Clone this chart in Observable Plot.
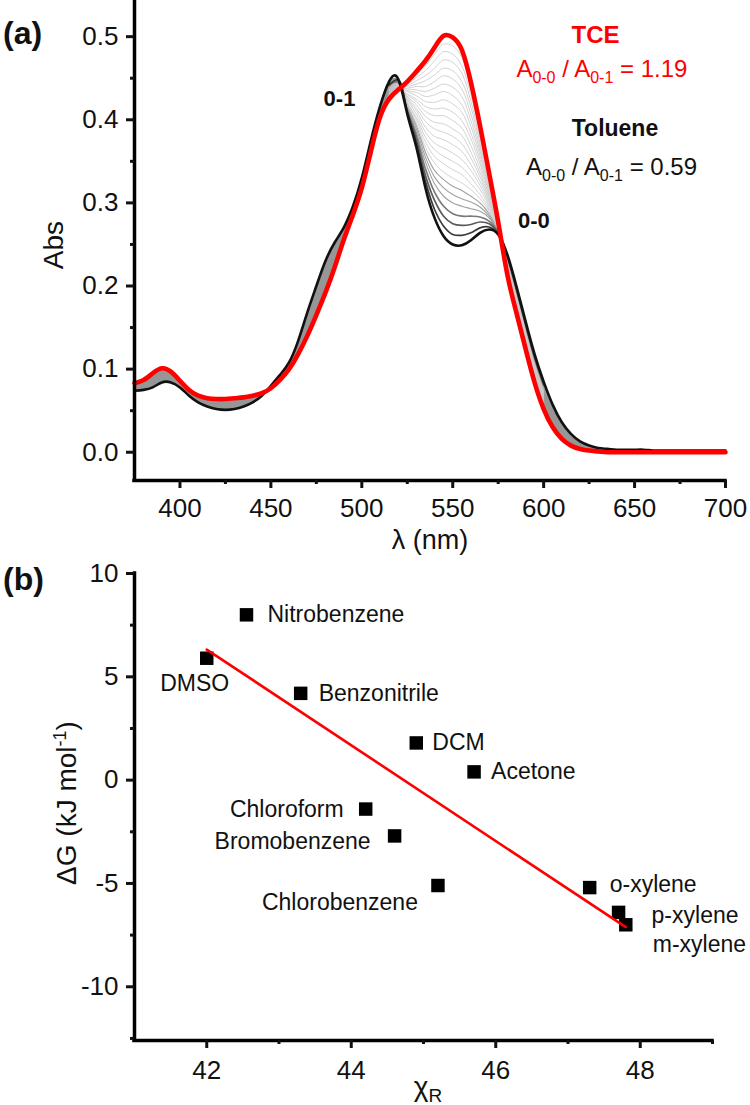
<!DOCTYPE html>
<html>
<head>
<meta charset="utf-8">
<script src="https://cdn.jsdelivr.net/npm/d3@7"></script>
<script src="https://cdn.jsdelivr.net/npm/@observablehq/plot@0.6"></script>
<style>
  body { margin: 0; background: #fff; width: 750px; height: 1105px; overflow: hidden; }
  svg { display: block; }
  text { white-space: pre; }
</style>
</head>
<body>
<div id="chart"></div>
<script>
// ================= Panel (a): UV-vis spectra =================
const wavelength = [375,380,385,390,395,400,405,410,415,420,425,430,435,440,445,450,455,460,465,470,475,480,485,490,495,500,505,510,515,520,525,530,535,540,545,550,555,560,565,570,575,580,585,590,595,600,605,610,615,620,625,630,635,640,645,650,655,660,665,670,675,680,685,690,695,700];
const absToluene = [0.074,0.075,0.078,0.084,0.084,0.078,0.068,0.060,0.055,0.052,
  0.051,0.052,0.055,0.060,0.068,0.080,0.093,0.108,0.134,0.168,
  0.200,0.230,0.252,0.270,0.295,0.330,0.375,0.416,0.446,0.449,
  0.407,0.367,0.318,0.282,0.260,0.250,0.249,0.255,0.264,0.268,
  0.262,0.238,0.200,0.158,0.118,0.085,0.057,0.036,0.022,0.013,
  0.008,0.005,0.004,0.003,0.003,0.003,0.003,0.002,0.002,0.002,
  0.002,0.002,0.002,0.002,0.002,0.002];
const absTCE = [0.083,0.087,0.095,0.101,0.097,0.086,0.075,0.068,0.065,0.064,
  0.064,0.065,0.066,0.068,0.071,0.077,0.087,0.100,0.118,0.140,
  0.165,0.192,0.222,0.255,0.285,0.318,0.362,0.403,0.425,0.436,
  0.446,0.458,0.471,0.487,0.501,0.499,0.484,0.445,0.393,0.336,
  0.277,0.214,0.168,0.125,0.084,0.052,0.030,0.016,0.008,0.004,
  0.002,0.001,0.000,0.000,0.000,0.000,0.000,0.000,0.000,0.000,
  0.000,0.000,0.000,0.000,0.000,0.000];

// intermediate spectra of the titration (read in the 515-600 nm window), from toluene side to TCE side
const wavelengthMid = [515,520,525,530,535,540,545,550,555,560,565,570,575,580,585,590,595,600];
const absMid01 = [0.442,0.448,0.409,0.372,0.326,0.292,0.272,0.262,0.261,0.264,0.270,0.271,0.263,0.237,0.198,0.156,0.116,0.083];
const absMid02 = [0.441,0.448,0.411,0.376,0.333,0.303,0.284,0.275,0.273,0.274,0.277,0.275,0.264,0.236,0.197,0.155,0.115,0.082];
const absMid03 = [0.444,0.445,0.411,0.381,0.341,0.313,0.296,0.287,0.284,0.284,0.283,0.278,0.264,0.234,0.195,0.153,0.113,0.080];
const absMid04 = [0.439,0.446,0.415,0.385,0.349,0.323,0.308,0.300,0.296,0.293,0.290,0.282,0.265,0.233,0.194,0.151,0.111,0.078];
const absMid05 = [0.442,0.444,0.415,0.389,0.355,0.331,0.318,0.310,0.305,0.301,0.295,0.284,0.266,0.232,0.192,0.150,0.110,0.077];
const absMid06 = [0.438,0.445,0.418,0.393,0.361,0.339,0.328,0.320,0.315,0.308,0.300,0.287,0.266,0.231,0.191,0.149,0.109,0.076];
const absMid07 = [0.440,0.443,0.418,0.396,0.367,0.348,0.337,0.330,0.324,0.316,0.305,0.290,0.267,0.230,0.190,0.147,0.107,0.074];
const absMid08 = [0.437,0.444,0.421,0.400,0.373,0.356,0.347,0.340,0.334,0.323,0.310,0.292,0.267,0.229,0.189,0.146,0.106,0.073];
const absMid09 = [0.438,0.442,0.421,0.403,0.379,0.364,0.356,0.350,0.343,0.331,0.316,0.295,0.268,0.228,0.187,0.145,0.104,0.072];
const absMid10 = [0.435,0.443,0.424,0.407,0.385,0.372,0.366,0.360,0.352,0.339,0.321,0.298,0.269,0.227,0.186,0.144,0.103,0.071];
const absMid11 = [0.436,0.441,0.425,0.411,0.391,0.380,0.376,0.370,0.362,0.346,0.326,0.301,0.269,0.227,0.185,0.142,0.102,0.069];
const absMid12 = [0.434,0.442,0.427,0.414,0.398,0.389,0.385,0.380,0.371,0.354,0.331,0.303,0.270,0.226,0.183,0.141,0.100,0.068];
const absMid13 = [0.435,0.440,0.428,0.418,0.404,0.397,0.395,0.389,0.381,0.361,0.336,0.306,0.270,0.225,0.182,0.140,0.099,0.067];
const absMid14 = [0.432,0.441,0.430,0.422,0.410,0.405,0.405,0.399,0.390,0.369,0.341,0.309,0.271,0.224,0.181,0.138,0.098,0.065];
const absMid15 = [0.433,0.440,0.431,0.425,0.416,0.413,0.414,0.409,0.399,0.377,0.347,0.312,0.272,0.223,0.180,0.137,0.096,0.064];
const absMid16 = [0.431,0.440,0.434,0.429,0.422,0.421,0.424,0.419,0.409,0.384,0.352,0.314,0.272,0.222,0.178,0.136,0.095,0.063];
const absMid17 = [0.431,0.439,0.435,0.433,0.428,0.430,0.434,0.429,0.418,0.392,0.357,0.317,0.273,0.221,0.177,0.134,0.094,0.061];
const absMid18 = [0.429,0.439,0.437,0.436,0.434,0.438,0.443,0.439,0.428,0.399,0.362,0.320,0.273,0.220,0.176,0.133,0.092,0.060];
const absMid19 = [0.429,0.438,0.438,0.440,0.440,0.446,0.453,0.449,0.437,0.407,0.367,0.322,0.274,0.219,0.174,0.132,0.091,0.059];
const absMid20 = [0.428,0.438,0.440,0.443,0.447,0.454,0.462,0.459,0.446,0.415,0.372,0.325,0.275,0.218,0.173,0.130,0.089,0.057];
const absMid21 = [0.428,0.437,0.441,0.447,0.453,0.462,0.472,0.469,0.456,0.422,0.378,0.328,0.275,0.217,0.172,0.129,0.088,0.056];
const absMid22 = [0.426,0.437,0.443,0.451,0.459,0.471,0.482,0.479,0.465,0.430,0.383,0.331,0.276,0.216,0.171,0.128,0.087,0.055];
const absMid23 = [0.426,0.436,0.444,0.454,0.465,0.479,0.491,0.489,0.475,0.437,0.388,0.333,0.276,0.215,0.169,0.126,0.085,0.053];

const xTicksA = [400,450,500,550,600,650,700];
const xMinorA = [425,475,525,575,625,675];
const yTicksA = [0.0,0.1,0.2,0.3,0.4,0.5];
const yMinorA = [0.05,0.15,0.25,0.35,0.45];

// ================= Panel (b): ΔG vs χR =================
const solvents = ["Nitrobenzene","DMSO","Benzonitrile","DCM","Acetone","Chloroform","Bromobenzene","Chlorobenzene","o-xylene","p-xylene","m-xylene"];
const chiR   = [42.55, 42.0, 43.3, 44.9, 45.7, 44.2, 44.6, 45.2, 47.3, 47.7, 47.8];
const deltaG = [8.0, 5.9, 4.2, 1.8, 0.4, -1.4, -2.7, -5.1, -5.2, -6.4, -7.0];

const xTicksB = [42,44,46,48];
const xMinorB = [43,45,47,49];
const yTicksB = [-10,-5,0,5,10];
const yMinorB = [-12.5,-7.5,-2.5,2.5,7.5];

// ================= styling / layout options =================
const fontFam = "'Liberation Sans', Arial, Helvetica, sans-serif";
const ink = "#111";
const labelPlacement = {
  "Nitrobenzene":  {dx: 21,  dy: 0,    anchor: "start"},
  "DMSO":          {dx: -12, dy: 25,   anchor: "middle"},
  "Benzonitrile":  {dx: 18,  dy: 0,    anchor: "start"},
  "DCM":           {dx: 16,  dy: 0,    anchor: "start"},
  "Acetone":       {dx: 17,  dy: 0,    anchor: "start"},
  "Chloroform":    {dx: -22, dy: 1,    anchor: "end"},
  "Bromobenzene":  {dx: -24, dy: 6,    anchor: "end"},
  "Chlorobenzene": {dx: -20, dy: 17,   anchor: "end"},
  "o-xylene":      {dx: 20,  dy: -3,   anchor: "start"},
  "p-xylene":      {dx: 33,  dy: 3,    anchor: "start"},
  "m-xylene":      {dx: 27,  dy: 20,   anchor: "start"}
};

// ---- tables built from the arrays ----
const specTol = wavelength.map((w, i) => ({wl: w, a: absToluene[i]}));
const specTCE = wavelength.map((w, i) => ({wl: w, a: absTCE[i]}));
const band = wavelength.map((w, i) => ({wl: w, lo: absToluene[i], hi: absTCE[i]}));
const bandLeft = band.filter(d => d.wl <= 520);
const bandRight = band.filter(d => d.wl >= 575);
const toRows = arr => wavelengthMid.map((w, i) => ({wl: w, a: arr[i]}));
const darkMid = [absMid03, absMid02, absMid01];
const darkColors = ["#7a7a7a", "#5a5a5a", "#3a3a3a"];
const lightMid = [absMid04, absMid05, absMid06, absMid07, absMid08, absMid09, absMid10, absMid11, absMid12,
  absMid13, absMid14, absMid15, absMid16, absMid17, absMid18, absMid19, absMid20, absMid21, absMid22, absMid23];
const points = solvents.map((s, i) => ({name: s, chi: chiR[i], g: deltaG[i]}));

const axisStyle = {fontFamily: fontFam, fontSize: "26px", color: ink, background: "#fff", overflow: "visible"};

// ================= Chart (a) =================
const chartA = Plot.plot({
  width: 750, height: 545,
  marginLeft: 134, marginRight: 25, marginTop: 0, marginBottom: 65,
  x: {domain: [375, 700]},
  y: {domain: [-0.034, 0.5435]},
  style: axisStyle,
  marks: [
    Plot.areaY(bandLeft, {x: "wl", y1: "lo", y2: "hi", fill: "#969696", curve: "natural"}),
    Plot.areaY(bandRight, {x: "wl", y1: "lo", y2: "hi", fill: "#969696", curve: "natural"}),
    ...lightMid.map((arr, k) => Plot.line(toRows(arr), {
      x: "wl", y: "a", curve: "catmull-rom",
      stroke: k < 3 ? "#a0a0a0" : "#cacaca", strokeWidth: k < 3 ? 1.1 : 0.85
    })),
    ...darkMid.map((arr, k) => Plot.line(toRows(arr), {
      x: "wl", y: "a", curve: "catmull-rom",
      stroke: darkColors[k], strokeWidth: 1.7
    })),
    Plot.line(specTol, {x: "wl", y: "a", stroke: ink, strokeWidth: 2.6, curve: "natural"}),
    Plot.line(specTCE, {x: "wl", y: "a", stroke: "#ff0000", strokeWidth: 4.6, curve: "natural"}),
    Plot.ruleX([375], {stroke: "#000", strokeWidth: 3.5, strokeLinecap: "square"}),
    Plot.ruleY([-0.034], {stroke: "#000", strokeWidth: 3.5, strokeLinecap: "square"}),
    Plot.axisX({ticks: xTicksA, tickSize: 8, tickPadding: 10, strokeWidth: 3, fontSize: 26, label: null, tickFormat: d => String(d)}),
    Plot.axisX({ticks: xMinorA, tickSize: 4, strokeWidth: 3, label: null, tickFormat: () => ""}),
    Plot.axisY({ticks: yTicksA, tickSize: 8, tickPadding: 8, strokeWidth: 3, fontSize: 26, label: null, tickFormat: d3.format(".1f")}),
    Plot.axisY({ticks: yMinorA, tickSize: 4, strokeWidth: 3, label: null, tickFormat: () => ""})
  ]
});

// ================= Chart (b) =================
const chartB = Plot.plot({
  width: 750, height: 560,
  marginLeft: 134, marginRight: 38, marginTop: 28, marginBottom: 65,
  x: {domain: [41, 49]},
  y: {domain: [-12.6, 10]},
  style: axisStyle,
  marks: [
    Plot.dot(points, {x: "chi", y: "g", symbol: "square", r: 7.6, fill: "#000"}),
    Plot.linearRegressionY(points, {x: "chi", y: "g", stroke: "#ff0000", strokeWidth: 2.6, ci: 0}),
    ...points.map(p => {
      const pl = labelPlacement[p.name];
      return Plot.text([p], {x: "chi", y: "g", text: "name", dx: pl.dx, dy: pl.dy, textAnchor: pl.anchor,
        fontSize: 23, fill: ink, fontFamily: fontFam});
    }),
    Plot.ruleX([41], {stroke: "#000", strokeWidth: 3.5, strokeLinecap: "square"}),
    Plot.ruleY([-12.6], {stroke: "#000", strokeWidth: 3.5, strokeLinecap: "square"}),
    Plot.axisX({ticks: xTicksB, tickSize: 8, tickPadding: 12, strokeWidth: 3, fontSize: 26, label: null, tickFormat: d => String(d)}),
    Plot.axisX({ticks: xMinorB, tickSize: 4, strokeWidth: 3, label: null, tickFormat: () => ""}),
    Plot.axisY({ticks: yTicksB, tickSize: 8, tickPadding: 8, strokeWidth: 3, fontSize: 26, label: null, tickFormat: d => String(d)}),
    Plot.axisY({ticks: yMinorB, tickSize: 4, strokeWidth: 3, label: null, tickFormat: () => ""})
  ]
});

// ================= text helpers =================
function richText(svg, x, y, parts, o) {
  const t = d3.select(svg).append("text")
    .attr("x", x).attr("y", y)
    .attr("text-anchor", o.anchor || "middle")
    .attr("font-family", fontFam)
    .attr("font-size", o.size)
    .attr("font-weight", o.weight || "normal")
    .attr("fill", o.fill || ink)
    .attr("transform", o.rotate ? `rotate(${o.rotate} ${x} ${y})` : null);
  let shift = 0;
  for (const p of parts) {
    const target = p.sub ? (o.subShift || 6) : p.sup ? -(o.supShift || 10) : 0;
    t.append("tspan").attr("dy", target - shift)
      .attr("font-size", (p.sub || p.sup) ? (o.subSize || o.size * 0.66) : o.size)
      .text(p.t);
    shift = target;
  }
}

// annotations of panel (a) in data coordinates
const sxA = v => chartA.scale("x").apply(v);
const syA = v => chartA.scale("y").apply(v);
richText(chartA, sxA(628.8), syA(0.492), [{t: "TCE"}], {size: 24, weight: "bold", fill: "#ff0000"});
richText(chartA, sxA(632.3), syA(0.451), [{t: "A"}, {t: "0-0", sub: true}, {t: " / A"}, {t: "0-1", sub: true}, {t: " = 1.19"}],
  {size: 24, subSize: 16, fill: "#ff0000"});
richText(chartA, sxA(639.5), syA(0.380), [{t: "Toluene"}], {size: 23, weight: "bold"});
richText(chartA, sxA(637.6), syA(0.333), [{t: "A"}, {t: "0-0", sub: true}, {t: " / A"}, {t: "0-1", sub: true}, {t: " = 0.59"}],
  {size: 24, subSize: 16});
richText(chartA, sxA(594.9), syA(0.269), [{t: "0-0"}], {size: 22, weight: "bold"});
richText(chartA, sxA(488), syA(0.416), [{t: "0-1"}], {size: 22, weight: "bold"});

// panel labels and axis titles
richText(chartA, 3, 44, [{t: "(a)"}], {size: 32, weight: "bold", anchor: "start"});
richText(chartA, 63, 245, [{t: "Abs"}], {size: 28, rotate: -90});
richText(chartA, 430, 549, [{t: "λ (nm)"}], {size: 27});

richText(chartB, 3, 45, [{t: "(b)"}], {size: 32, weight: "bold", anchor: "start"});
richText(chartB, 76, 258, [{t: "ΔG (kJ mol"}, {t: "-1", sup: true}, {t: ")"}], {size: 28, subSize: 18, supShift: 10, rotate: -90});
richText(chartB, 428, 551, [{t: "χ"}, {t: "R", sub: true}], {size: 28, subSize: 19, subShift: 6});

const root = document.getElementById("chart");
root.append(chartA, chartB);
</script>
</body>
</html>
